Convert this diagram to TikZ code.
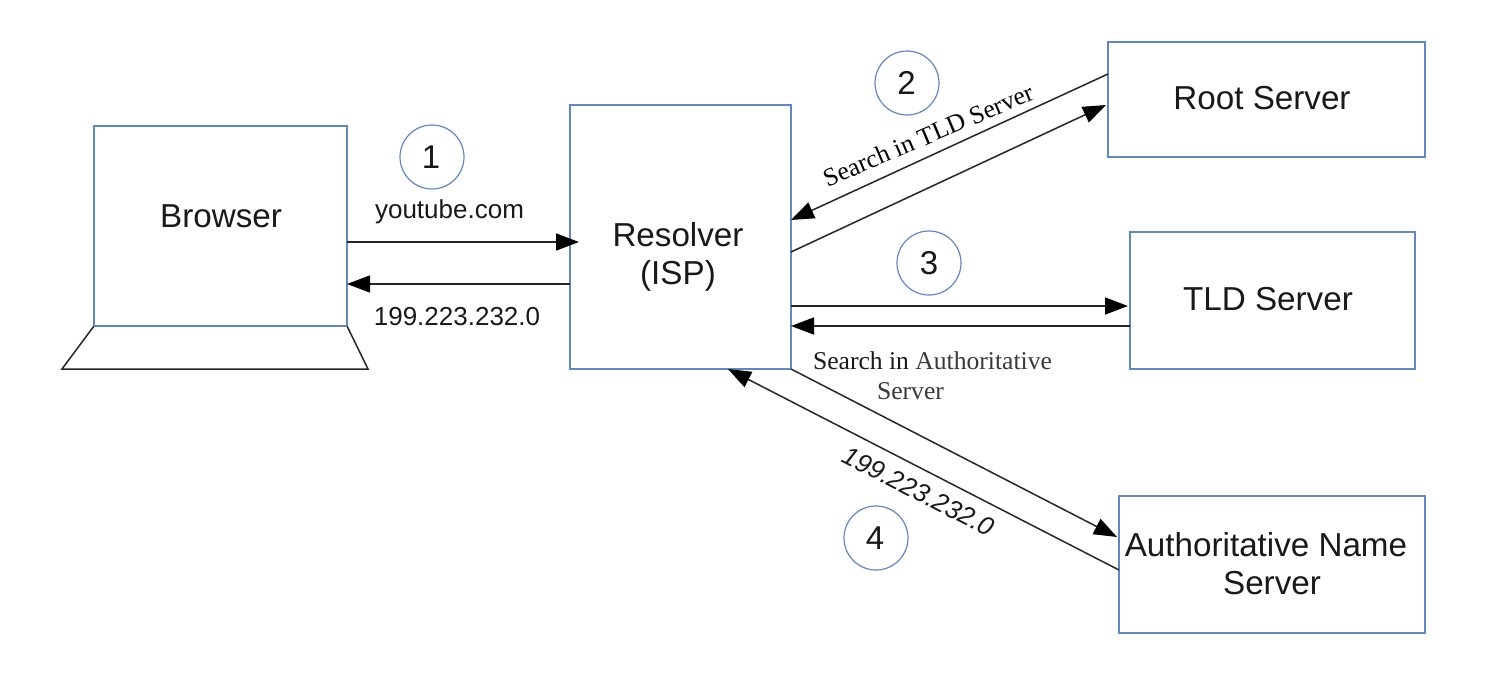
\documentclass[tikz,border=0pt]{standalone}
\usepackage{fontspec}
\setmainfont{Liberation Sans}
\newfontfamily\serifface{Liberation Serif}
\usetikzlibrary{arrows.meta}
\definecolor{boxblue}{HTML}{6487BC}
\definecolor{softtext}{HTML}{3A3A3A}
\tikzset{
  box/.style={draw=boxblue,line width=0.8pt,fill=white,rectangle,inner sep=0pt,outer sep=0pt},
  badge/.style={draw=boxblue,line width=0.6pt,circle,inner sep=0pt,minimum size=32pt,font=\fontsize{16.5}{20}\selectfont,text=black!90},
  boxtext/.style={font=\fontsize{16.6}{19}\selectfont,align=center,text=black!90,inner sep=0pt},
  smalltext/.style={font=\fontsize{13}{15}\selectfont,inner sep=0pt,text=black!90},
  serifnote/.style={font=\serifface\fontsize{12.8}{15}\selectfont,inner sep=0pt},
  link/.style={draw=black!85,line width=0.75pt,-{Triangle[length=11.5pt,width=8.5pt,color=black]}},
  plain/.style={draw=black!85,line width=0.75pt,line join=miter}
}
\begin{document}
\begin{tikzpicture}[x=0.5pt,y=-0.5pt]
\useasboundingbox (0,0) rectangle (1496,686);
\fill[white] (0,0) rectangle (1496,686);
% boxes
\node[box,minimum width=126.5pt,minimum height=100pt] (browser) at (220.5,226) {};
\node[box,minimum width=110.5pt,minimum height=132pt] (resolver) at (680.5,237) {};
\node[box,minimum width=158.5pt,minimum height=57.5pt] (root) at (1266.5,99.5) {};
\node[box,minimum width=142.5pt,minimum height=68.5pt] (tld) at (1272.5,300.5) {};
\node[box,minimum width=153pt,minimum height=68.5pt] (auth) at (1272,564.5) {};
% laptop base
\coordinate (baseL) at (62,369);
\coordinate (baseR) at (368,369);
\draw[plain] (browser.south west) -- (baseL) -- (baseR) -- (browser.south east);
\draw[draw=boxblue,line width=0.8pt] (browser.south west) -- (browser.south east);
% box texts
\node[boxtext] (tBrowser) at (221,216) {Browser};
\node[boxtext] (tResolver) at (678,257) {Resolver\\(ISP)};
\node[boxtext] (tRoot) at (1262,98) {Root Server};
\node[boxtext] (tTld) at (1268,299) {TLD Server};
\node[boxtext] (tAuth) at (1266,564) {Authoritative Name\\\hspace*{6pt}Server};
% badges
\node[badge] (b1) at (432,157) {\hspace*{-1pt}1};
\node[badge] (b2) at (907,83) {\hspace*{-0.5pt}2};
\node[badge] (b3) at (929,263) {3};
\node[badge] (b4) at (876,538) {\hspace*{-1pt}4};
% connector ends
\coordinate (bo1) at (browser.east |- 0,242);
\coordinate (re1) at (579,242);
\coordinate (re2) at (resolver.west |- 0,284);
\coordinate (bo2) at (browser.east |- 0,284);
\coordinate (ro1) at (root.west |- 0,74);
\coordinate (re3) at (resolver.east |- 0,220);
\coordinate (re4) at (resolver.east |- 0,252);
\coordinate (ro2) at (1106,105);
\coordinate (re5) at (resolver.east |- 0,306);
\coordinate (tl1) at (1128,306);
\coordinate (tl2) at (tld.west |- 0,326);
\coordinate (re6) at (resolver.east |- 0,326);
\coordinate (au1) at (1117,537);
\coordinate (au2) at (auth.west |- 0,570);
\coordinate (re7) at (728,369);
% connectors
\draw[link] (bo1) -- (re1);
\draw[link] (re2) -- (bo2);
\draw[link] (ro1) -- (re3);
\draw[link] (re4) -- (ro2);
\draw[link] (re5) -- (tl1);
\draw[link] (tl2) -- (re6);
\draw[link] (resolver.south east) -- (au1);
\draw[link] (au2) -- (re7);
% labels
\node[smalltext] (l1) at (449.5,212) {youtube.com};
\node[smalltext] (l2) at (457,317) {199.223.232.0};
\node[serifnote,rotate=23] (l3) at (928,135) {Search in TLD Server};
\node[serifnote,text=black!90] (l4) at (932.5,361) {Search in {\color{softtext}Authoritative}};
\node[serifnote,text=softtext] (l5) at (910.5,391) {Server};
\node[smalltext,rotate=-27,font=\itshape\fontsize{13}{15}\selectfont] (l6) at (918.5,491.5) {199.223.232.0};
\end{tikzpicture}
\end{document}
